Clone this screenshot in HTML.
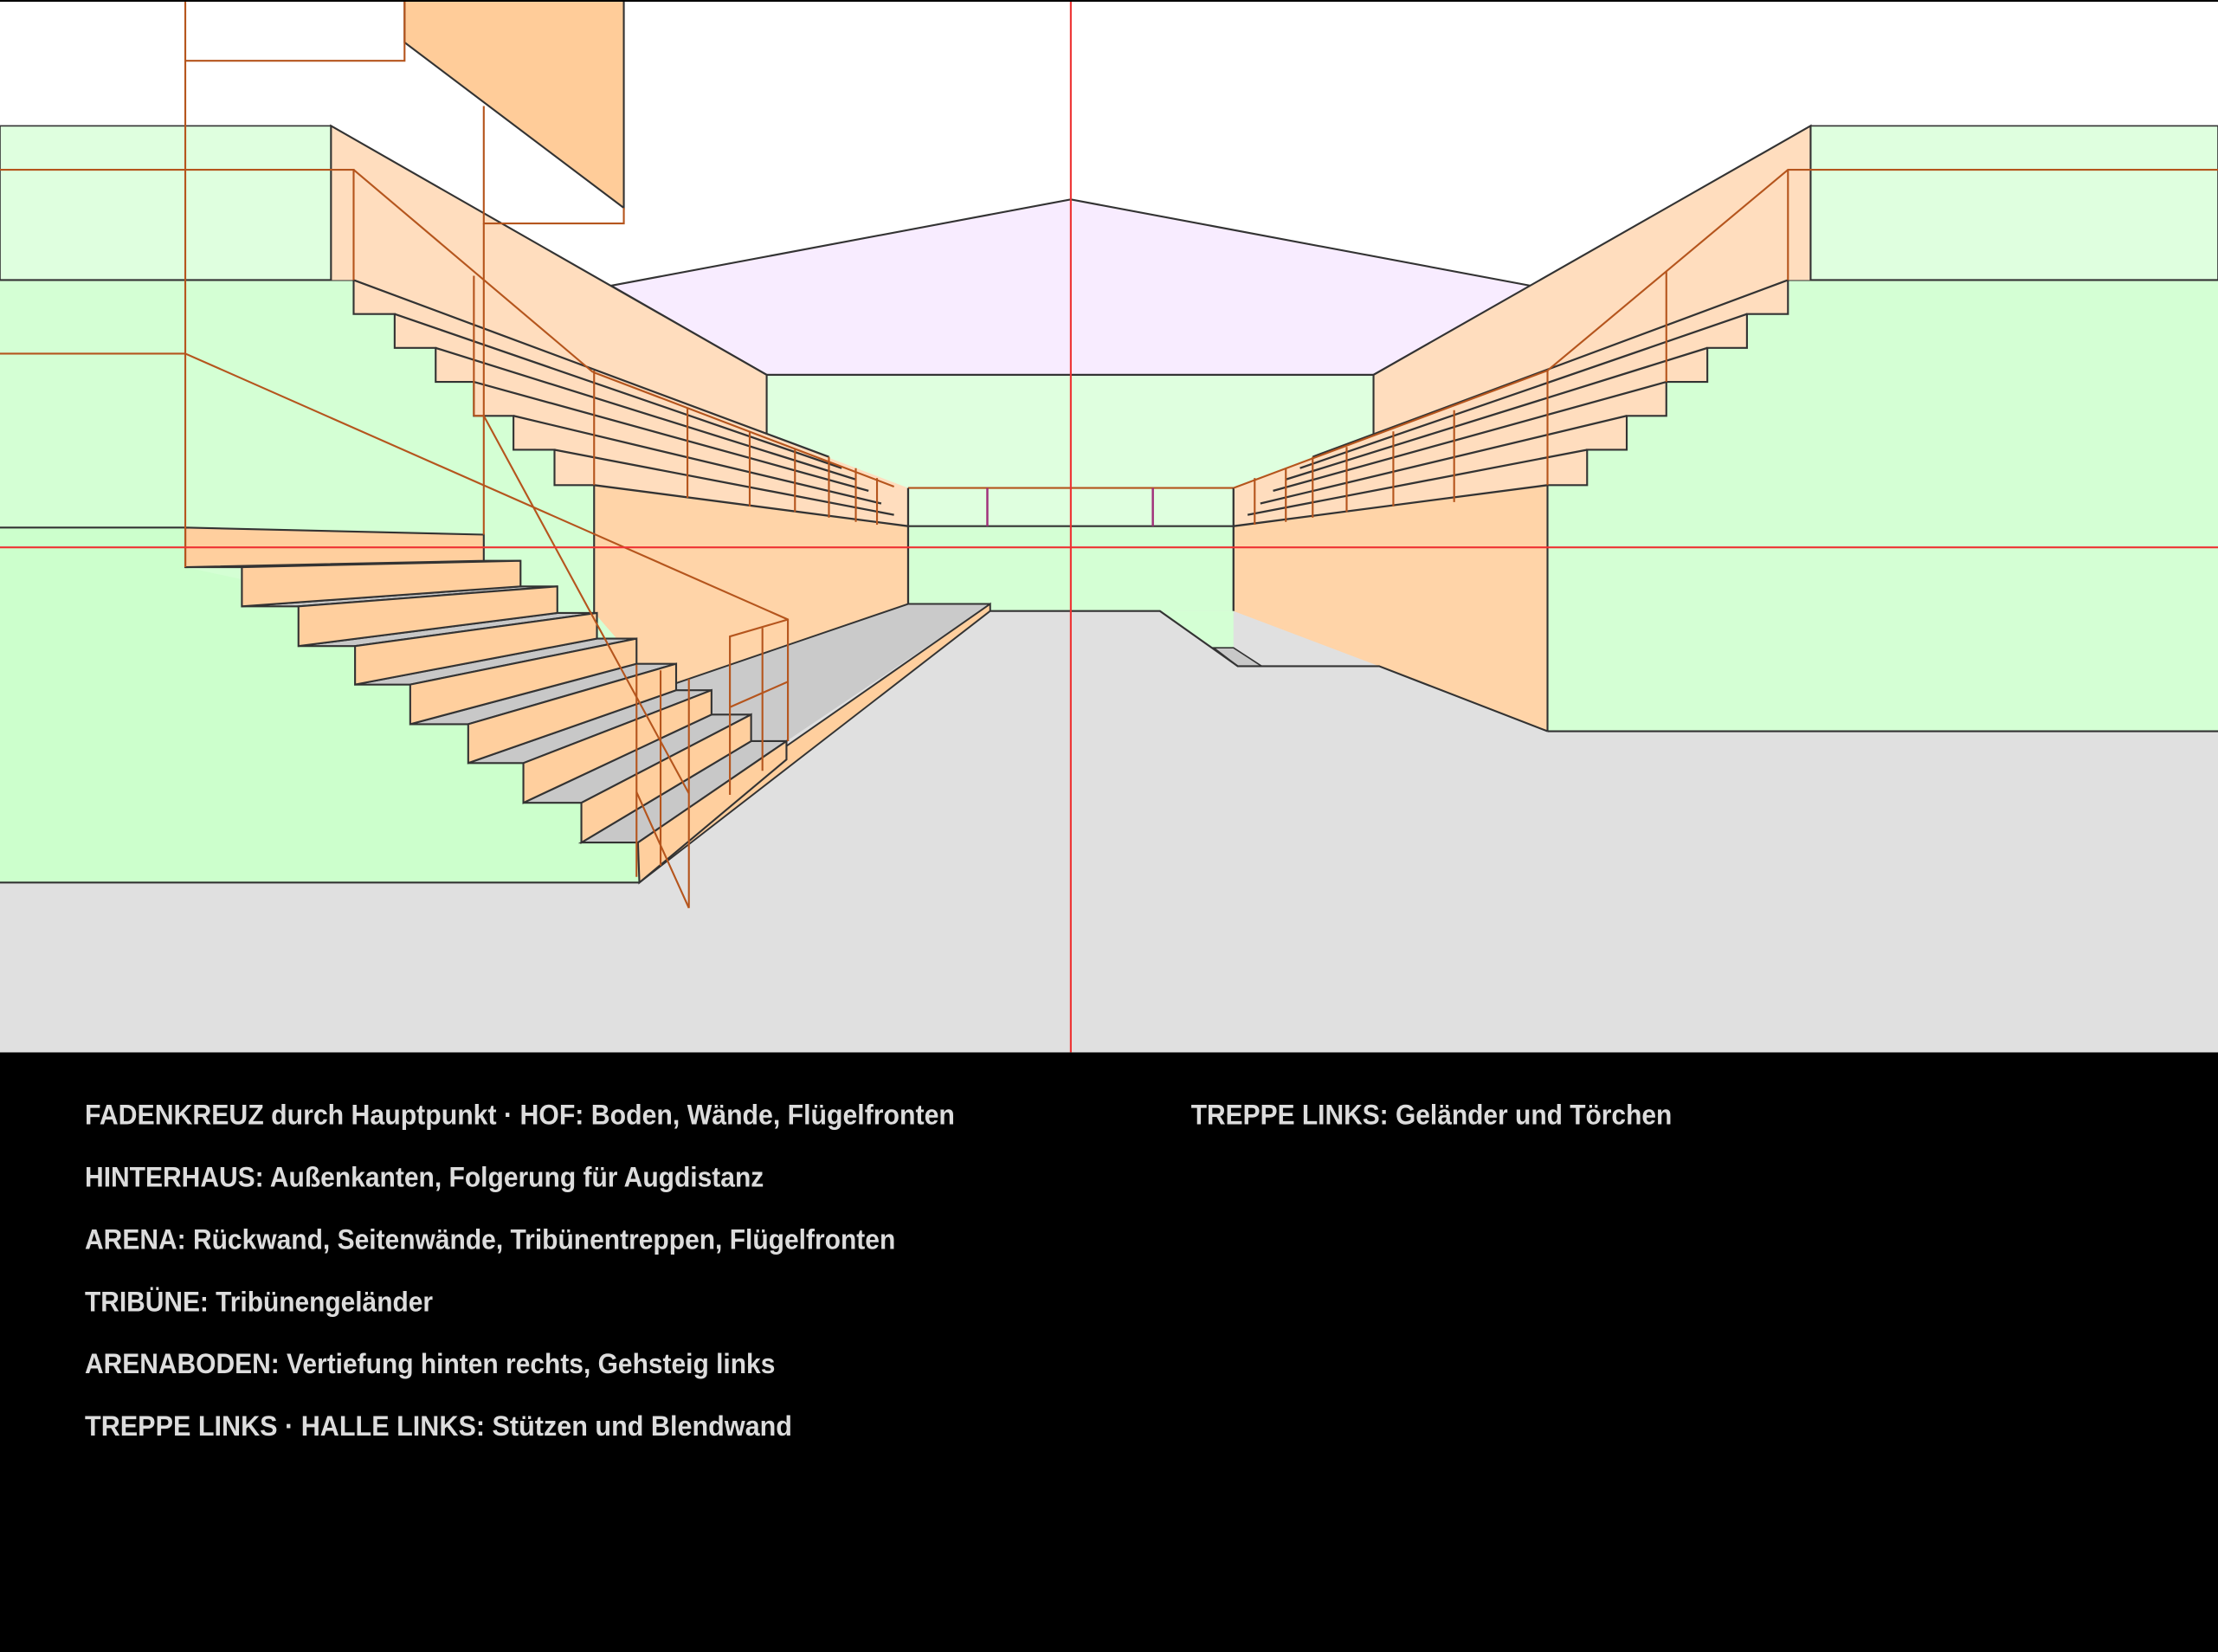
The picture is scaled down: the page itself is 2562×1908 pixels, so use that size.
<!DOCTYPE html>
<html><head><meta charset="utf-8"><style>
html,body{margin:0;padding:0;background:#000;}
svg{display:block;}
</style></head><body>
<svg width="2562" height="1908" viewBox="0 0 1568 1168" preserveAspectRatio="none" xmlns="http://www.w3.org/2000/svg">
<rect x="0" y="0" width="1568" height="1168" fill="#000"/>
<rect x="0" y="0" width="1568" height="744" fill="#fff"/>
<rect x="0" y="430" width="1568" height="314" fill="#e0e0e0"/>
<rect x="0" y="89" width="234" height="109" fill="#dfffdf" stroke="#333" stroke-width="1"/>
<rect x="1280" y="89" width="288" height="109" fill="#dfffdf" stroke="#333" stroke-width="1"/>
<polygon points="0,198 250,198 250,222 279,222 279,246 308,246 308,270 335,270 335,294 363,294 363,318 392,318 392,343 420,343 420,433 452,470 452,624 0,624" fill="#d4ffd4"/>
<polygon points="0,373 131,373 131,401 452,470 452,624 0,624" fill="#ccffcc"/>
<line x1="0" y1="198" x2="250" y2="198" stroke="#333" stroke-width="1.3"/>
<line x1="0" y1="624" x2="452" y2="624" stroke="#333" stroke-width="1.3"/>
<line x1="0" y1="373" x2="131" y2="373" stroke="#333" stroke-width="1.3"/>
<rect x="1094" y="198" width="474" height="319" fill="#d4ffd4"/>
<line x1="1264" y1="198" x2="1568" y2="198" stroke="#333" stroke-width="1.3"/>
<line x1="1094" y1="517" x2="1568" y2="517" stroke="#333" stroke-width="1.3"/>
<polygon points="432,202 757,141 1082,202 971,265 542,265" fill="#f8ecff" stroke="#333" stroke-width="1.3"/>
<rect x="542" y="265" width="429" height="107" fill="#dfffdf"/>
<line x1="542" y1="265" x2="971" y2="265" stroke="#333" stroke-width="1.3"/>
<rect x="642" y="372" width="230" height="60" fill="#d4ffd4"/>
<line x1="642" y1="372" x2="872" y2="372" stroke="#333" stroke-width="1.3"/>
<line x1="642" y1="345" x2="872" y2="345" stroke="#b5551d" stroke-width="1.3"/>
<line x1="698" y1="345" x2="698" y2="372" stroke="#a0307a" stroke-width="1.5"/>
<line x1="815" y1="345" x2="815" y2="372" stroke="#a0307a" stroke-width="1.5"/>
<polygon points="234,89 542,265 542,307 642,345 642,372 420,343 392,343 392,318 363,318 363,294 335,294 335,270 308,270 308,246 279,246 279,222 250,222 250,198 234,198" fill="#ffddbe"/>
<polyline points="234,198 234,89 542,265 542,307" fill="none" stroke="#333" stroke-width="1.3"/>
<polygon points="420,343 642,372 642,427 478,483 452,470 420,433" fill="#ffd4a8"/>
<polyline points="250,198 250,222 279,222 279,246 308,246 308,270 335,270 335,294 363,294 363,318 392,318 392,343 420,343 420,433" fill="none" stroke="#333" stroke-width="1.3"/>
<g stroke="#333" stroke-width="1.4">
<line x1="250" y1="198" x2="586" y2="323"/>
<line x1="279" y1="222" x2="595" y2="331"/>
<line x1="308" y1="246" x2="605" y2="339"/>
<line x1="335" y1="270" x2="614" y2="347"/>
<line x1="363" y1="294" x2="623" y2="356"/>
<line x1="392" y1="318" x2="632" y2="364"/>
<line x1="420" y1="343" x2="642" y2="372"/>
<line x1="642" y1="345" x2="642" y2="427"/>
</g>
<polygon points="1280,89 971,265 971,307 872,345 872,372 1094,343 1122,343 1122,318 1150,318 1150,294 1178,294 1178,270 1207,270 1207,246 1235,246 1235,222 1264,222 1264,198 1280,198" fill="#ffddbe"/>
<polyline points="1280,198 1280,89 971,265 971,307" fill="none" stroke="#333" stroke-width="1.3"/>
<polygon points="1094,343 872,372 872,432 975,471 1094,517" fill="#ffd4a8"/>
<polyline points="1264,198 1264,222 1235,222 1235,246 1207,246 1207,270 1178,270 1178,294 1150,294 1150,318 1122,318 1122,343 1094,343 1094,517" fill="none" stroke="#333" stroke-width="1.3"/>
<g stroke="#333" stroke-width="1.4">
<line x1="1264" y1="198" x2="928" y2="323"/>
<line x1="1235" y1="222" x2="919" y2="331"/>
<line x1="1207" y1="246" x2="909" y2="339"/>
<line x1="1178" y1="270" x2="900" y2="347"/>
<line x1="1150" y1="294" x2="891" y2="356"/>
<line x1="1122" y1="318" x2="882" y2="364"/>
<line x1="1094" y1="343" x2="872" y2="372"/>
<line x1="872" y1="345" x2="872" y2="432"/>
</g>
<polygon points="820,432 872,432 872,458 858,458" fill="#d4ffd4"/>
<polygon points="858,458 872,458 892,471 875,471" fill="#c8c8c8" stroke="#333" stroke-width="1"/>
<polyline points="700,432 820,432 875,471 975,471 1094,517" fill="none" stroke="#333" stroke-width="1.3"/>
<g stroke="#b5551d" stroke-width="1.3" fill="none">
<polyline points="1568,120 1264,120 1094,262 872,345"/>
<line x1="1264" y1="120" x2="1264" y2="198"/>
<line x1="1178" y1="192" x2="1178" y2="270"/>
<line x1="1094" y1="262" x2="1094" y2="343"/>
<line x1="1028" y1="290" x2="1028" y2="355"/>
<line x1="985" y1="305" x2="985" y2="358"/>
<line x1="952" y1="316" x2="952" y2="362"/>
<line x1="928" y1="323" x2="928" y2="366"/>
<line x1="909" y1="331" x2="909" y2="369"/>
<line x1="887" y1="338" x2="887" y2="371"/>
</g>
<polygon points="642,427 700,427 556,524 452,600 452,560 478,483" fill="#cacaca"/>
<polygon points="700,427 700,432 452,624 452,600" fill="#ffcf9e" stroke="#333" stroke-width="1.2"/>
<line x1="642" y1="427" x2="700" y2="427" stroke="#333" stroke-width="1.2"/>
<line x1="642" y1="427" x2="478" y2="483" stroke="#333" stroke-width="1.2"/>
<g stroke="#333" stroke-width="1.3" stroke-linejoin="miter">
<polygon points="131,401 342,396.5 368,396.5 171,401" fill="#c8c8c8"/>
<polygon points="171,428.7 368,414.6 394,414.6 211,428.7" fill="#c8c8c8"/>
<polygon points="211,456.8 394,433.4 422,433.4 251,456.8" fill="#c8c8c8"/>
<polygon points="251,484 422,451.5 450,451.5 290,484" fill="#c8c8c8"/>
<polygon points="290,512 450,469.3 478,469.3 331,512" fill="#c8c8c8"/>
<polygon points="331,539.5 478,488 503,488 370,539.5" fill="#c8c8c8"/>
<polygon points="370,567.6 503,505.2 531,505.2 411,567.6" fill="#c8c8c8"/>
<polygon points="411,595.7 531,524 556,524 451,595.7" fill="#c8c8c8"/>
<polygon points="131,373 342,378 342,396.5 131,401" fill="#ffcf9e"/>
<polygon points="171,401 368,396.5 368,414.6 171,428.7" fill="#ffcf9e"/>
<polygon points="211,428.7 394,414.6 394,433.4 211,456.8" fill="#ffcf9e"/>
<polygon points="251,456.8 422,433.4 422,451.5 251,484" fill="#ffcf9e"/>
<polygon points="290,484 450,451.5 450,469.3 290,512" fill="#ffcf9e"/>
<polygon points="331,512 478,469.3 478,488 331,539.5" fill="#ffcf9e"/>
<polygon points="370,539.5 503,488 503,505.2 370,567.6" fill="#ffcf9e"/>
<polygon points="411,567.6 531,505.2 531,524 411,595.7" fill="#ffcf9e"/>
<polygon points="451,595.7 556,524 556,537 452,624" fill="#ffcf9e"/>
</g>
<g stroke="#b5551d" stroke-width="1.3" fill="none">
<polygon points="286,0 441,0 441,147 286,30" fill="#ffcc99" stroke="#333"/>
<polyline points="131,0 131,43 286,43 286,0"/>
<line x1="131" y1="43" x2="131" y2="401"/>
<polyline points="342,75 342,158 441,158 441,147"/>
<line x1="342" y1="158" x2="342" y2="378"/>
<polyline points="0,120 250,120 250,198"/>
<line x1="250" y1="120" x2="419" y2="263"/>
<line x1="419" y1="263" x2="632" y2="344"/>
<polyline points="0,250 131,250 557,438 557,524"/>
<line x1="335" y1="195" x2="335" y2="294"/>
<line x1="335" y1="294" x2="342" y2="294"/>
<line x1="342" y1="294" x2="487" y2="561"/>
<line x1="420" y1="262" x2="420" y2="343"/>
<line x1="486" y1="288" x2="486" y2="352"/>
<line x1="530" y1="305" x2="530" y2="358"/>
<line x1="562" y1="318" x2="562" y2="362"/>
<line x1="586" y1="323" x2="586" y2="366"/>
<line x1="605" y1="331" x2="605" y2="369"/>
<line x1="620" y1="338" x2="620" y2="371"/>
<line x1="450" y1="470" x2="450" y2="620"/>
<line x1="467" y1="474" x2="467" y2="612"/>
<line x1="487" y1="480" x2="487" y2="642"/>
<line x1="450" y1="560" x2="487" y2="642"/>
<polyline points="516,562 516,450 557,438"/>
<line x1="539" y1="444" x2="539" y2="545"/>
<line x1="516" y1="500" x2="557" y2="482"/>
</g>
<line x1="757" y1="0" x2="757" y2="744" stroke="#e33" stroke-width="1.3"/>
<line x1="0" y1="387" x2="1568" y2="387" stroke="#e33" stroke-width="1.3"/>
<line x1="0" y1="0.5" x2="1568" y2="0.5" stroke="#000" stroke-width="1.5"/>
<g font-family="Liberation Sans, sans-serif" font-weight="bold" font-size="20" fill="#dcdcdc">
<text x="60" y="795" textLength="615" lengthAdjust="spacingAndGlyphs">FADENKREUZ durch Hauptpunkt ·  HOF: Boden, Wände, Flügelfronten</text>
<text x="60" y="839" textLength="480" lengthAdjust="spacingAndGlyphs">HINTERHAUS: Außenkanten, Folgerung für Augdistanz</text>
<text x="60" y="883" textLength="573" lengthAdjust="spacingAndGlyphs">ARENA: Rückwand, Seitenwände, Tribünentreppen, Flügelfronten</text>
<text x="60" y="927" textLength="246" lengthAdjust="spacingAndGlyphs">TRIBÜNE: Tribünengeländer</text>
<text x="60" y="971" textLength="488" lengthAdjust="spacingAndGlyphs">ARENABODEN: Vertiefung hinten rechts, Gehsteig links</text>
<text x="60" y="1015" textLength="500" lengthAdjust="spacingAndGlyphs">TREPPE LINKS  ·  HALLE LINKS: Stützen und Blendwand</text>
<text x="842" y="795" textLength="340" lengthAdjust="spacingAndGlyphs">TREPPE LINKS: Geländer und Törchen</text>
</g>
</svg>
</body></html>
